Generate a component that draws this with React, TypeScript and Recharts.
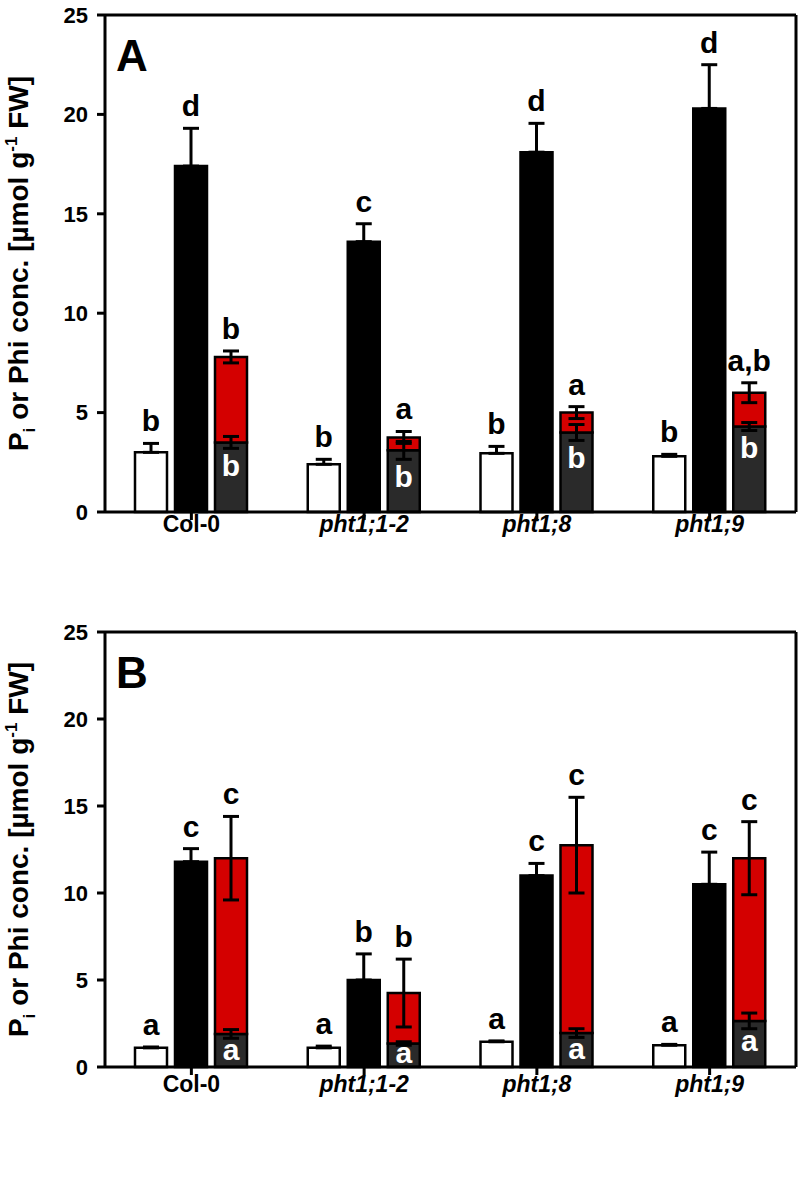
import React from "react";
import { BarChart, Bar, XAxis, YAxis, ErrorBar, LabelList, ReferenceLine } from "recharts";

const genotypes = ["Col-0", "pht1;1-2", "pht1;8", "pht1;9"];
const yTicks = [0, 5, 10, 15, 20, 25];

// panel A
const aWhite = [3.0, 2.4, 2.95, 2.8];
const aWhiteErr = [0.45, 0.25, 0.35, 0.1];
const aBlack = [17.4, 13.6, 18.1, 20.3];
const aBlackErr = [1.9, 0.9, 1.45, 2.2];
const aDark = [3.5, 3.1, 4.0, 4.3];
const aDarkErr = [0.3, 0.45, 0.4, 0.2];
const aRed = [4.3, 0.65, 1.0, 1.7];
const aRedErr = [0.3, 0.3, 0.3, 0.5];
const aWhiteLetters = ["b", "b", "b", "b"];
const aBlackLetters = ["d", "c", "d", "d"];
const aDarkLetters = ["b", "b", "b", "b"];
const aTopLetters = ["b", "a", "a", "a,b"];

// panel B
const bWhite = [1.1, 1.1, 1.45, 1.25];
const bWhiteErr = [0.05, 0.1, 0.05, 0.05];
const bBlack = [11.8, 5.0, 11.0, 10.5];
const bBlackErr = [0.75, 1.5, 0.7, 1.85];
const bDark = [1.9, 1.35, 1.95, 2.65];
const bDarkErr = [0.25, 0.1, 0.25, 0.45];
const bRed = [10.1, 2.9, 10.8, 9.35];
const bRedErr = [2.4, 1.95, 2.75, 2.1];
const bWhiteLetters = ["a", "a", "a", "a"];
const bBlackLetters = ["c", "b", "c", "c"];
const bDarkLetters = ["a", "a", "a", "a"];
const bTopLetters = ["c", "b", "c", "c"];

const FONT = '"Liberation Sans", Arial, sans-serif';
const RED = "#d40000";
const DARK = "#2a2a2a";

function box(p: any) {
  const vb = p.viewBox ?? p;
  return {
    x: Number(vb.x ?? p.x),
    y: Number(vb.y ?? p.y),
    w: Number(vb.width ?? p.width),
    h: Math.abs(Number(vb.height ?? p.height)),
    i: p.index as number,
  };
}

// letter above the upper end of the error bar
const letterAbove = (letters: string[], vals: number[], errs: number[]) => (p: any) => {
  const { x, y, w, h, i } = box(p);
  if (i == null || !letters[i]) return null;
  const ppu = h / vals[i];
  const capY = y - errs[i] * ppu;
  return (
    <text x={x + w / 2} y={capY - 12} textAnchor="middle" fontSize={30} fontWeight={700} fontFamily={FONT} fill="#000">
      {letters[i]}
    </text>
  );
};

// white letter inside the dark segment, below its lower error end
const letterInside = (letters: string[], vals: number[], errs: number[]) => (p: any) => {
  const { x, y, w, h, i } = box(p);
  if (i == null || !letters[i]) return null;
  const ppu = h / vals[i];
  const lowY = y + errs[i] * ppu;
  const tall = /[bdhklt]/.test(letters[i]);
  let base = lowY + 6 + (tall ? 22 : 16);
  base = Math.min(base, y + h - 4);
  return (
    <text x={x + w / 2} y={base} textAnchor="middle" fontSize={30} fontWeight={700} fontFamily={FONT} fill="#fff">
      {letters[i]}
    </text>
  );
};

const XTick = ({ x, y, payload, dy }: any) => (
  <text
    x={x}
    y={y + dy}
    textAnchor="middle"
    fontSize={23}
    fontWeight={700}
    fontStyle={payload.value === "Col-0" ? "normal" : "italic"}
    fontFamily={FONT}
    fill="#000"
  >
    {payload.value}
  </text>
);

const yLabel = (p: any) => {
  const vb = p.viewBox ?? p;
  const cy = Number(vb.y) + Number(vb.height) / 2;
  const cx = 28;
  return (
    <text
      x={cx}
      y={cy}
      transform={`rotate(-90, ${cx}, ${cy})`}
      textAnchor="middle"
      fontSize={28}
      fontWeight={700}
      fontFamily={FONT}
      fill="#000"
    >
      <tspan>P</tspan>
      <tspan fontSize={17} dy={7}>i</tspan>
      <tspan dy={-7}> or Phi conc. [µmol g</tspan>
      <tspan fontSize={17} dy={-11}>-1</tspan>
      <tspan dy={11}> FW]</tspan>
    </text>
  );
};

const panelTag = (tag: string) => (p: any) => {
  const vb = p.viewBox ?? p;
  return (
    <text x={Number(vb.x) + 11} y={Number(vb.y) + 56} fontSize={44} fontWeight={700} fontFamily={FONT} fill="#000">
      {tag}
    </text>
  );
};

interface PanelProps {
  tag: string;
  height: number;
  top: number;
  bottom: number;
  labelDy: number;
  white: number[];
  whiteErr: number[];
  black: number[];
  blackErr: number[];
  dark: number[];
  darkErr: number[];
  red: number[];
  redErr: number[];
  whiteLetters: string[];
  blackLetters: string[];
  darkLetters: string[];
  topLetters: string[];
}

const Panel = (props: PanelProps) => {
  const data = genotypes.map((name, i) => ({
    name,
    white: props.white[i],
    whiteErr: [0, props.whiteErr[i]],
    black: props.black[i],
    blackErr: [0, props.blackErr[i]],
    dark: props.dark[i],
    darkErr: props.darkErr[i],
    red: props.red[i],
    redErr: props.redErr[i],
  }));
  const axisStroke = { stroke: "#000", strokeWidth: 3 };

  return (
    <BarChart
      width={800}
      height={props.height}
      data={data}
      margin={{ top: props.top, right: 0, left: 0, bottom: props.bottom }}
      barSize={32}
      barGap={8}
    >
      <XAxis
        dataKey="name"
        height={34}
        interval={0}
        tickSize={8}
        axisLine={axisStroke}
        tickLine={axisStroke}
        tick={<XTick dy={props.labelDy} />}
      />
      <YAxis
        domain={[0, 25]}
        ticks={yTicks}
        width={105}
        tickSize={8}
        tickMargin={9}
        axisLine={axisStroke}
        tickLine={axisStroke}
        tick={{ fill: "#000", fontSize: 22, fontWeight: 700, fontFamily: FONT }}
        label={{ content: yLabel }}
      />
      <YAxis
        yAxisId="r"
        orientation="right"
        domain={[0, 25]}
        width={4}
        tick={false}
        tickLine={false}
        axisLine={axisStroke}
      />
      <ReferenceLine y={25} stroke="#000" strokeWidth={3} label={{ content: panelTag(props.tag) }} />

      <Bar dataKey="white" stackId="w" fill="#fff" stroke="#000" strokeWidth={2.5} isAnimationActive={false}>
        <ErrorBar dataKey="whiteErr" width={8} strokeWidth={3} stroke="#000" />
        <LabelList content={letterAbove(props.whiteLetters, props.white, props.whiteErr)} />
      </Bar>
      <Bar dataKey="black" stackId="k" fill="#000" stroke="#000" strokeWidth={2.5} isAnimationActive={false}>
        <ErrorBar dataKey="blackErr" width={8} strokeWidth={3} stroke="#000" />
        <LabelList content={letterAbove(props.blackLetters, props.black, props.blackErr)} />
      </Bar>
      <Bar dataKey="dark" stackId="s" fill={DARK} stroke="#000" strokeWidth={2.5} isAnimationActive={false}>
        <ErrorBar dataKey="darkErr" width={8} strokeWidth={3} stroke="#000" />
        <LabelList content={letterInside(props.darkLetters, props.dark, props.darkErr)} />
      </Bar>
      <Bar dataKey="red" stackId="s" fill={RED} stroke="#000" strokeWidth={2.5} isAnimationActive={false}>
        <ErrorBar dataKey="redErr" width={8} strokeWidth={3} stroke="#000" />
        <LabelList content={letterAbove(props.topLetters, props.red, props.redErr)} />
      </Bar>
    </BarChart>
  );
};

export default function App() {
  return (
    <div style={{ position: "absolute", left: 0, top: 0, width: 800, height: 1180, background: "#fff" }}>
      <div style={{ position: "absolute", left: 0, top: 0 }}>
        <Panel
          tag="A"
          height={580}
          top={15}
          bottom={34}
          labelDy={10}
          white={aWhite}
          whiteErr={aWhiteErr}
          black={aBlack}
          blackErr={aBlackErr}
          dark={aDark}
          darkErr={aDarkErr}
          red={aRed}
          redErr={aRedErr}
          whiteLetters={aWhiteLetters}
          blackLetters={aBlackLetters}
          darkLetters={aDarkLetters}
          topLetters={aTopLetters}
        />
      </div>
      <div style={{ position: "absolute", left: 0, top: 580 }}>
        <Panel
          tag="B"
          height={600}
          top={52}
          bottom={79}
          labelDy={15}
          white={bWhite}
          whiteErr={bWhiteErr}
          black={bBlack}
          blackErr={bBlackErr}
          dark={bDark}
          darkErr={bDarkErr}
          red={bRed}
          redErr={bRedErr}
          whiteLetters={bWhiteLetters}
          blackLetters={bBlackLetters}
          darkLetters={bDarkLetters}
          topLetters={bTopLetters}
        />
      </div>
    </div>
  );
}
